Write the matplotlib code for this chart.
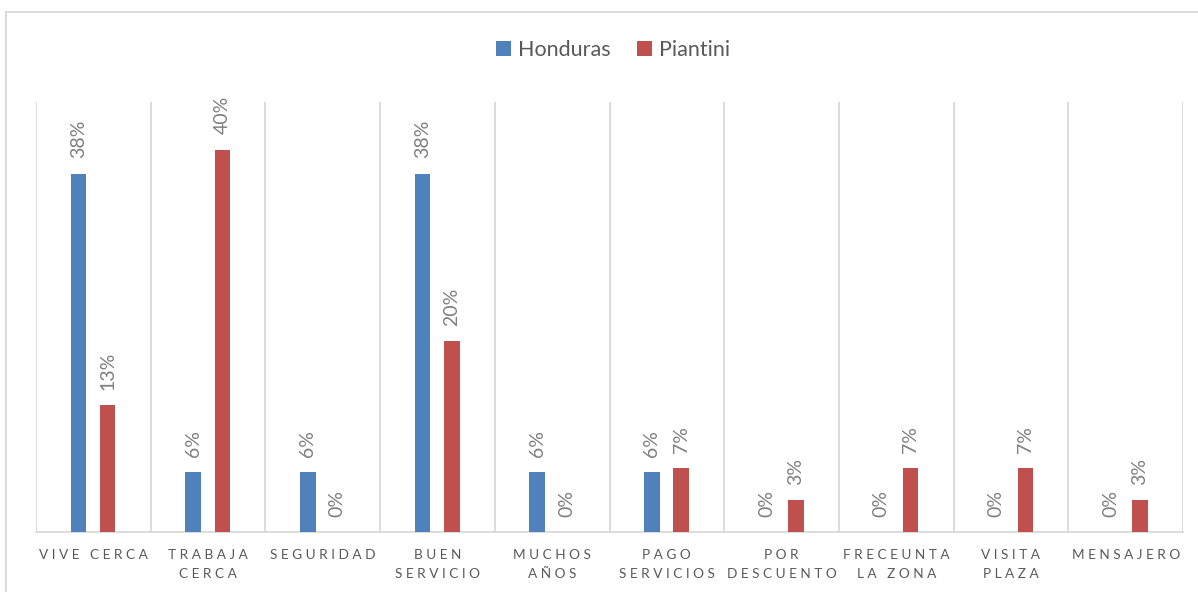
import numpy as np
import matplotlib
matplotlib.use('Agg')
import matplotlib.pyplot as plt
from matplotlib.lines import Line2D

plt.rcParams['font.family'] = ['Lato', 'DejaVu Sans']

## data
categories = ['VIVE CERCA', 'TRABAJA\nCERCA', 'SEGURIDAD', 'BUEN\nSERVICIO', 'MUCHOS\nAÑOS',
              'PAGO\nSERVICIOS', 'POR\nDESCUENTO', 'FRECEUNTA\nLA ZONA', 'VISITA\nPLAZA', 'MENSAJERO']
honduras = [37.5, 6.25, 6.25, 37.5, 6.25, 6.25, 0, 0, 0, 0]
piantini = [13.3, 40.0, 0, 20.0, 0, 6.7, 3.3, 6.7, 6.7, 3.3]

blue = '#4f81bd'
red  = '#c0504d'
grid_col = '#d9d9d9'
txt_col  = '#595959'
lab_col  = '#7f7f7f'


def spaced(s):
    ## fake letter spacing like the excel axis labels
    lines = []
    for line in s.split('\n'):
        words = [' '.join(list(w)) for w in line.split(' ')]
        lines.append('   '.join(words))
    return '\n'.join(lines)


def pct(v):
    return '%d%%' % int(v + 0.5)


fig = plt.figure(figsize=(11.98, 5.92), dpi=100, facecolor='w')
ax = fig.add_axes([36/1198, 1-532/592, (1183-36)/1198, (532-102)/592])

x = np.arange(len(categories))
bw = 0.135
b1 = ax.bar(x - 0.13, honduras, width=bw, color=blue, label='Honduras', zorder=3)
b2 = ax.bar(x + 0.125, piantini, width=bw, color=red, label='Piantini', zorder=3)

for bars, vals in ((b1, honduras), (b2, piantini)):
    for rect, v in zip(bars, vals):
        ax.annotate(pct(v), (rect.get_x() + rect.get_width()/2, v),
                    xytext=(0, 11), textcoords='offset points',
                    rotation=90, ha='center', va='bottom',
                    fontsize=14, color=lab_col)

ax.set_xlim(-0.5, 9.5)
ax.set_ylim(0, 45)
ax.set_yticks([])
ax.set_xticks(x)
ax.set_xticklabels([spaced(c) for c in categories], fontsize=9.8, color=txt_col,
                   linespacing=1.7)
ax.tick_params(axis='x', length=0, pad=12)
ax.set_xticks(np.arange(-0.5, 10, 1), minor=True)
ax.tick_params(axis='x', which='minor', length=0)
ax.grid(which='minor', axis='x', color=grid_col, linewidth=1.3, zorder=0)
for s in ['top', 'left', 'right']:
    ax.spines[s].set_visible(False)
ax.spines['bottom'].set_color(grid_col)
ax.spines['bottom'].set_linewidth(1.3)

fig.legend(loc='center', bbox_to_anchor=(613/1198, 1-50/592), ncol=2, frameon=False,
           fontsize=15.5, labelcolor=txt_col, handlelength=0.7, handleheight=0.7,
           handletextpad=0.35, columnspacing=1.2)

## outer chart border
fig.add_artist(Line2D([6/1198, 1], [1-12/592, 1-12/592], color=grid_col, lw=1.3))
fig.add_artist(Line2D([6/1198, 6/1198], [0, 1-12/592], color=grid_col, lw=1.3))

plt.savefig('out.png', dpi=100, facecolor='w')
